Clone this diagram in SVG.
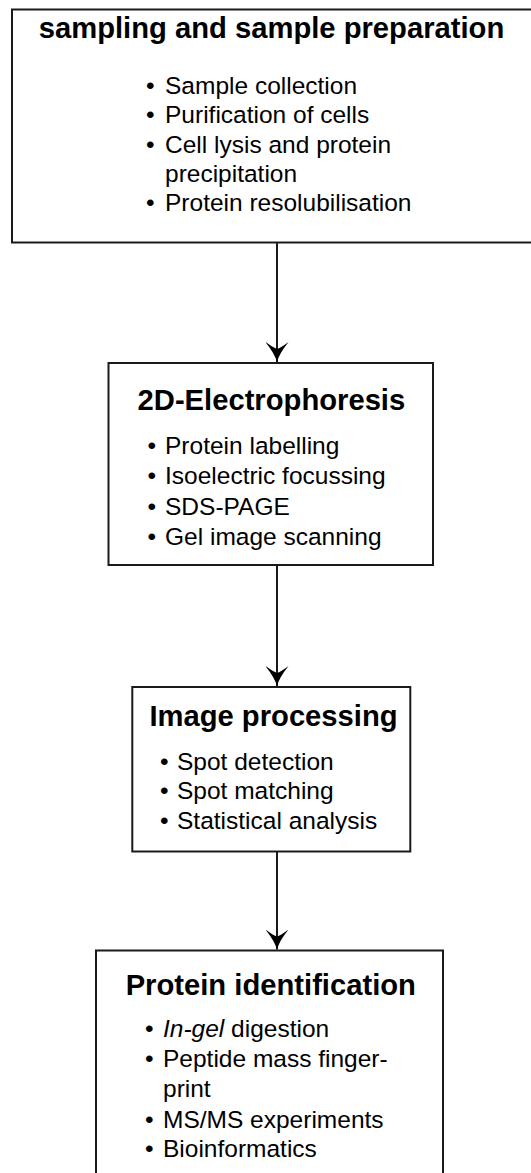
<svg xmlns="http://www.w3.org/2000/svg" width="531" height="1173" viewBox="0 0 531 1173">
<style>
  .box { fill: #ffffff; stroke: #1a1a1a; stroke-width: 2; }
  .title { font-family: "Liberation Sans", Arial, sans-serif; font-weight: bold; font-size: 29.2px; fill: #000; text-anchor: middle; }
  .item { font-family: "Liberation Sans", Arial, sans-serif; font-size: 24.5px; fill: #000; }
  .conn { stroke: #1a1a1a; stroke-width: 2; fill: none; }
</style>
<defs>
  <marker id="arrow" viewBox="0 0 20 23" markerWidth="20" markerHeight="23" refX="20" refY="11.5" orient="auto" markerUnits="userSpaceOnUse">
    <path d="M0,0 Q12,9.5 20,11.5 Q12,13.5 0,23 Q6,15 7,11.5 Q6,8 0,0 Z" fill="#000"/>
  </marker>
</defs>
<rect width="531" height="1173" fill="#ffffff"/>

<g id="connectors">
  <line class="conn" x1="277" y1="243" x2="277" y2="362" marker-end="url(#arrow)"/>
  <line class="conn" x1="277" y1="565" x2="277" y2="686" marker-end="url(#arrow)"/>
  <line class="conn" x1="277" y1="851" x2="277" y2="949.5" marker-end="url(#arrow)"/>
</g>

<g id="node-sampling">
  <rect class="box" x="12" y="9.5" width="530" height="233"/>
  <text class="title" x="271.5" y="38">sampling and sample preparation</text>
  <text class="item" y="94"><tspan x="146">•</tspan><tspan x="165">Sample collection</tspan></text>
  <text class="item" y="123.3"><tspan x="146">•</tspan><tspan x="165">Purification of cells</tspan></text>
  <text class="item" y="152.6"><tspan x="146">•</tspan><tspan x="165">Cell lysis and protein</tspan></text>
  <text class="item" x="165" y="181.9">precipitation</text>
  <text class="item" y="211.2"><tspan x="146">•</tspan><tspan x="165">Protein resolubilisation</tspan></text>
</g>

<g id="node-2de">
  <rect class="box" x="108.5" y="363" width="324.5" height="202"/>
  <text class="title" x="271.4" y="410">2D-Electrophoresis</text>
  <text class="item" y="454"><tspan x="147.5">•</tspan><tspan x="165">Protein labelling</tspan></text>
  <text class="item" y="484.3"><tspan x="147.5">•</tspan><tspan x="165">Isoelectric focussing</tspan></text>
  <text class="item" y="514.6"><tspan x="147.5">•</tspan><tspan x="165">SDS-PAGE</tspan></text>
  <text class="item" y="545"><tspan x="147.5">•</tspan><tspan x="165">Gel image scanning</tspan></text>
</g>

<g id="node-image">
  <rect class="box" x="132.3" y="687" width="278" height="164.5"/>
  <text class="title" x="273.5" y="725.5">Image processing</text>
  <text class="item" y="770"><tspan x="160">•</tspan><tspan x="177">Spot detection</tspan></text>
  <text class="item" y="799.3"><tspan x="160">•</tspan><tspan x="177">Spot matching</tspan></text>
  <text class="item" y="828.5"><tspan x="160">•</tspan><tspan x="177">Statistical analysis</tspan></text>
</g>

<g id="node-protein-id">
  <rect class="box" x="96" y="950.5" width="347" height="240"/>
  <text class="title" x="270.8" y="995">Protein identification</text>
  <text class="item" y="1036.7"><tspan x="145">•</tspan><tspan x="163" font-style="italic">In-gel</tspan><tspan> digestion</tspan></text>
  <text class="item" y="1067"><tspan x="145">•</tspan><tspan x="163">Peptide mass finger-</tspan></text>
  <text class="item" x="163" y="1097">print</text>
  <text class="item" y="1127.5"><tspan x="145">•</tspan><tspan x="163">MS/MS experiments</tspan></text>
  <text class="item" y="1157"><tspan x="145">•</tspan><tspan x="163">Bioinformatics</tspan></text>
</g>
</svg>
